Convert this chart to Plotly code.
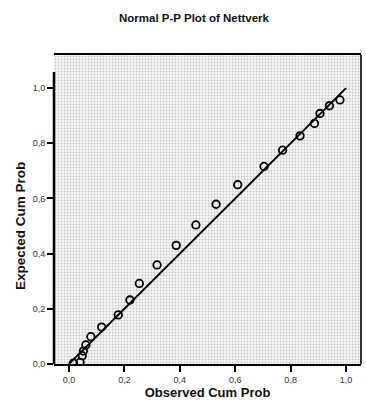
import plotly.graph_objects as go

# Observed vs. expected cumulative probabilities for Nettverk
observed_cum_prob = [0.016, 0.040, 0.048, 0.052, 0.061, 0.079, 0.118, 0.178,
                     0.220, 0.254, 0.318, 0.387, 0.458, 0.531, 0.609, 0.704,
                     0.771, 0.834, 0.886, 0.906, 0.940, 0.978]
expected_cum_prob = [0.003, 0.006, 0.030, 0.047, 0.069, 0.099, 0.134, 0.178,
                     0.232, 0.292, 0.359, 0.430, 0.504, 0.579, 0.650, 0.716,
                     0.775, 0.827, 0.872, 0.908, 0.936, 0.957]
ref_line = [0.0, 1.0]
tick_vals = [0.0, 0.2, 0.4, 0.6, 0.8, 1.0]

x_range = [-0.054, 1.054]
y_range = [0.0, 1.12]

fig = go.Figure()

# stippled plot background
fig.add_trace(go.Scatter(
    x=[x_range[0], x_range[1], x_range[1], x_range[0], x_range[0]],
    y=[y_range[0], y_range[0], y_range[1], y_range[1], y_range[0]],
    mode="none", fill="toself", fillcolor="white",
    fillpattern=dict(shape=".", size=3, solidity=0.3, fgcolor="#9a9a9a",
                     bgcolor="#f7f7f7", fillmode="overlay"),
    hoverinfo="skip", showlegend=False,
))

# reference diagonal
fig.add_trace(go.Scatter(
    x=ref_line, y=ref_line, mode="lines",
    line=dict(color="black", width=2), showlegend=False,
))

# observed points
fig.add_trace(go.Scatter(
    x=observed_cum_prob, y=expected_cum_prob, mode="markers",
    marker=dict(symbol="circle-open", size=7.5, color="black",
                line=dict(width=1.8, color="black")),
    showlegend=False,
))

family = "Liberation Sans, Arial, sans-serif"
axis_font = dict(family=family, size=9, color="#333")
title_font = dict(family=family, size=11.5, color="#111")
axis_title_font = dict(family=family, size=13, color="#111")

fig.update_layout(
    width=366, height=407,
    margin=dict(l=54, r=5, t=55, b=43),
    paper_bgcolor="white", plot_bgcolor="white",
    separators=", ",
    title=dict(text="<b>Normal P-P Plot of Nettverk</b>", x=194 / 366,
               xanchor="center", y=1 - 18 / 407, yanchor="middle",
               font=title_font),
    xaxis=dict(range=x_range, tickvals=tick_vals, tickformat=".1f",
               ticks="outside", ticklen=6, tickwidth=2, tickcolor="black",
               showline=True, linecolor="black", linewidth=2, mirror=True,
               showgrid=False, zeroline=False, tickfont=axis_font,
               title=dict(text="<b>Observed Cum Prob</b>", font=axis_title_font,
                          standoff=2)),
    yaxis=dict(range=y_range, tickvals=tick_vals, tickformat=".1f",
               ticks="outside", ticklen=6, tickwidth=2, tickcolor="black",
               showline=False, showgrid=False, zeroline=False,
               tickfont=axis_font),
    annotations=[
        dict(text="<b>Expected Cum Prob</b>", textangle=-90, showarrow=False,
             xref="paper", x=-34 / 307, xanchor="center",
             yref="y", y=0.5, yanchor="middle", font=dict(family=family, size=13.5, color="#111")),
    ],
    shapes=[
        dict(type="line", xref="paper", yref="y", x0=0, x1=0, y0=0, y1=1.058,
             line=dict(color="black", width=2.5)),
        dict(type="line", xref="paper", yref="paper", x0=1, x1=1, y0=0, y1=1,
             line=dict(color="#333", width=2)),
    ],
)

fig.write_html("out.html")
